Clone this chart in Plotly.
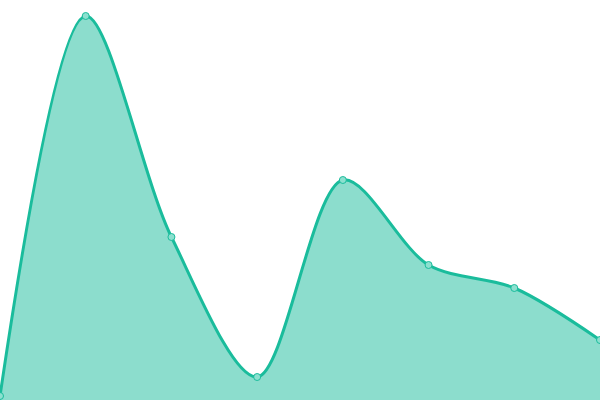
import plotly.graph_objects as go

# data (y in plot units, 0 = bottom edge)
x_vals = [0, 1, 2, 3, 4, 5, 6, 7]
y_vals = [4, 384, 163, 23, 220, 135, 112, 60]

LINE = "#1abc9c"
FILL = "rgba(26,188,156,0.5)"

fig = go.Figure(go.Scatter(
    x=x_vals, y=y_vals,
    mode="lines+markers",
    line=dict(color=LINE, width=3, shape="spline", smoothing=0.9),
    marker=dict(size=7, color="#8ce0cf", line=dict(color=LINE, width=1)),
    fill="tozeroy", fillcolor=FILL,
    cliponaxis=False,
))
fig.update_layout(
    width=600, height=400,
    margin=dict(l=0, r=0, t=0, b=0),
    paper_bgcolor="white", plot_bgcolor="white",
    showlegend=False,
    xaxis=dict(range=[0, 7], visible=False, fixedrange=True),
    yaxis=dict(range=[0, 400], visible=False, fixedrange=True),
)
# drop the page's default body margin so the chart sits at the window edge
fig.write_html(
    "out.html",
    config={"displayModeBar": False},
    post_script="document.body.style.margin='0';document.body.style.overflow='hidden';",
)
